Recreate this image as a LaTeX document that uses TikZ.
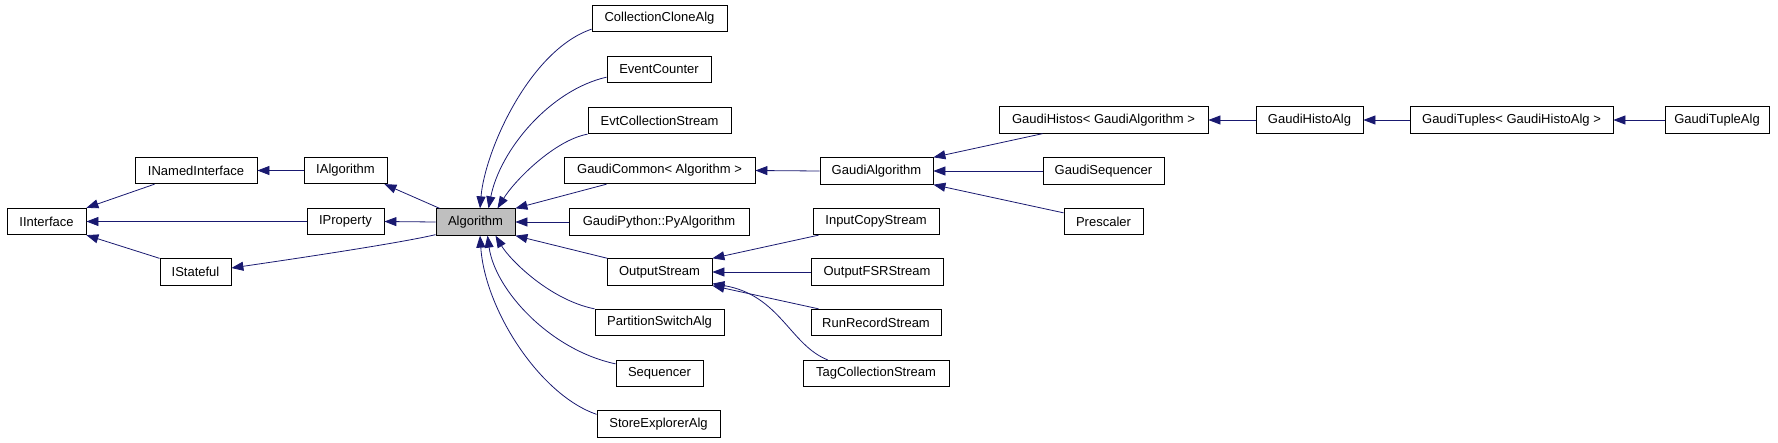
\documentclass[tikz,border=0pt]{standalone}
\usepackage{fontspec}
\setmainfont{Liberation Sans}
\usetikzlibrary{arrows.meta}
\definecolor{edgeblue}{HTML}{191970}
\definecolor{algfill}{gray}{0.75}
\tikzset{
  box/.style={draw=black, line width=0.8pt, minimum height=26.5pt, inner sep=0pt,
              font=\fontsize{13}{15}\selectfont, fill=white},
  edge/.style={draw=edgeblue, line width=0.8pt, -{Triangle[length=12pt,width=9pt]}},
}
\begin{document}
\begin{tikzpicture}[x=1pt,y=-1pt]
\useasboundingbox (0,0) rectangle (1778,442);
% column 1
\node[box, minimum width=79pt]  (II)  at (46.5,221.5) {IInterface};
% column 2
\node[box, minimum width=122pt] (INI) at (196,170.5) {INamedInterface};
\node[box, minimum width=71pt]  (IS)  at (195.5,272) {IStateful};
% column 3
\node[box, minimum width=83pt]  (IA)  at (345.5,170.5) {IAlgorithm};
\node[box, minimum width=77pt]  (IP)  at (345.5,221.5) {IProperty};
% column 4
\node[box, minimum width=79pt, fill=algfill] (Alg) at (475.5,222) {Algorithm};
% column 5
\node[box, minimum width=135pt] (CCA) at (659.5,18.5) {CollectionCloneAlg};
\node[box, minimum width=104pt] (EC)  at (659,69.5) {EventCounter};
\node[box, minimum width=143pt] (ECS) at (659.5,120.5) {EvtCollectionStream};
\node[box, minimum width=191pt] (GC)  at (659.5,170.5) {GaudiCommon< Algorithm >};
\node[box, minimum width=180pt] (GP)  at (659,222) {GaudiPython::PyAlgorithm};
\node[box, minimum width=105pt] (OS)  at (659.5,272) {OutputStream};
\node[box, minimum width=129pt] (PSA) at (659.5,322.5) {PartitionSwitchAlg};
\node[box, minimum width=87pt]  (Seq) at (659.5,373.5) {Sequencer};
\node[box, minimum width=123pt] (SEA) at (658.5,424) {StoreExplorerAlg};
% column 6
\node[box, minimum width=113pt] (GA)  at (876.5,171) {GaudiAlgorithm};
\node[box, minimum width=126pt] (ICS) at (876,221.5) {InputCopyStream};
\node[box, minimum width=132pt] (OFS) at (877,272) {OutputFSRStream};
\node[box, minimum width=130pt] (RRS) at (876,322.5) {RunRecordStream};
\node[box, minimum width=146pt] (TCS) at (876,373.5) {TagCollectionStream};
% column 7
\node[box, minimum width=209pt] (GH)  at (1103.5,120) {GaudiHistos< GaudiAlgorithm >};
\node[box, minimum width=121pt] (GS)  at (1103.5,171) {GaudiSequencer};
\node[box, minimum width=79pt]  (PS)  at (1103.5,221.5) {Prescaler};
% columns 8-10
\node[box, minimum width=107pt] (GHA) at (1309.5,120) {GaudiHistoAlg};
\node[box, minimum width=203pt] (GT)  at (1511.5,120) {GaudiTuples< GaudiHistoAlg >};
\node[box, minimum width=104pt] (GTA) at (1717,120) {GaudiTupleAlg};

% edges to IInterface
\draw[edge] ([xshift=20pt]INI.south west) -- (II.north east);
\draw[edge] (IP.west) -- (II.east);
\draw[edge] (IS.north west) -- (II.south east);
\draw[edge] (IA.west) -- (INI.east);
% edges from Algorithm
\draw[edge] ([xshift=4pt]Alg.north west) -- ([xshift=-3pt]IA.south east);
\draw[edge] (Alg.west) -- (IP.east);
\draw[edge] ([yshift=1pt]Alg.south west) .. controls (400,243) and (300,258) .. ([yshift=4pt]IS.east);
% edges to Algorithm
\draw[edge] ([yshift=3pt]CCA.south west) .. controls (530,50) and (485,150) .. ([xshift=4.5pt]Alg.north);
\draw[edge] ([yshift=6pt]EC.south west) .. controls (550,90) and (500,150) .. ([xshift=13pt]Alg.north);
\draw[edge] (ECS.south west) .. controls (555,140) and (515,180) .. ([xshift=22pt]Alg.north);
\draw[edge] ([xshift=43pt]GC.south west) -- (Alg.north east);
\draw[edge] (GP.west) -- (Alg.east);
\draw[edge] ([xshift=1pt]OS.north west) -- (Alg.south east);
\draw[edge] (PSA.north west) .. controls (550,300) and (510,260) .. ([xshift=20pt]Alg.south);
\draw[edge] ([yshift=-4pt]Seq.north west) .. controls (550,350) and (495,290) .. ([xshift=12pt]Alg.south);
\draw[edge] ([yshift=-4pt]SEA.north west) .. controls (540,395) and (485,310) .. ([xshift=4.5pt]Alg.south);
% edges to OutputStream
\draw[edge] ([xshift=6pt]ICS.south west) -- (OS.north east);
\draw[edge] (OFS.west) -- (OS.east);
\draw[edge] ([xshift=8pt]RRS.north west) -- (OS.south east);
\draw[edge] ([xshift=25pt]TCS.north west) .. controls (790,345) and (780,295) .. ([yshift=2pt]OS.south east);
% edges to GaudiAlgorithm / GaudiCommon
\draw[edge] (GA.west) -- (GC.east);
\draw[edge] ([xshift=44pt]GH.south west) -- (GA.north east);
\draw[edge] (GS.west) -- (GA.east);
\draw[edge] ([yshift=-5pt]PS.north west) -- (GA.south east);
% chain
\draw[edge] (GHA.west) -- (GH.east);
\draw[edge] (GT.west) -- (GHA.east);
\draw[edge] (GTA.west) -- (GT.east);
\end{tikzpicture}
\end{document}
